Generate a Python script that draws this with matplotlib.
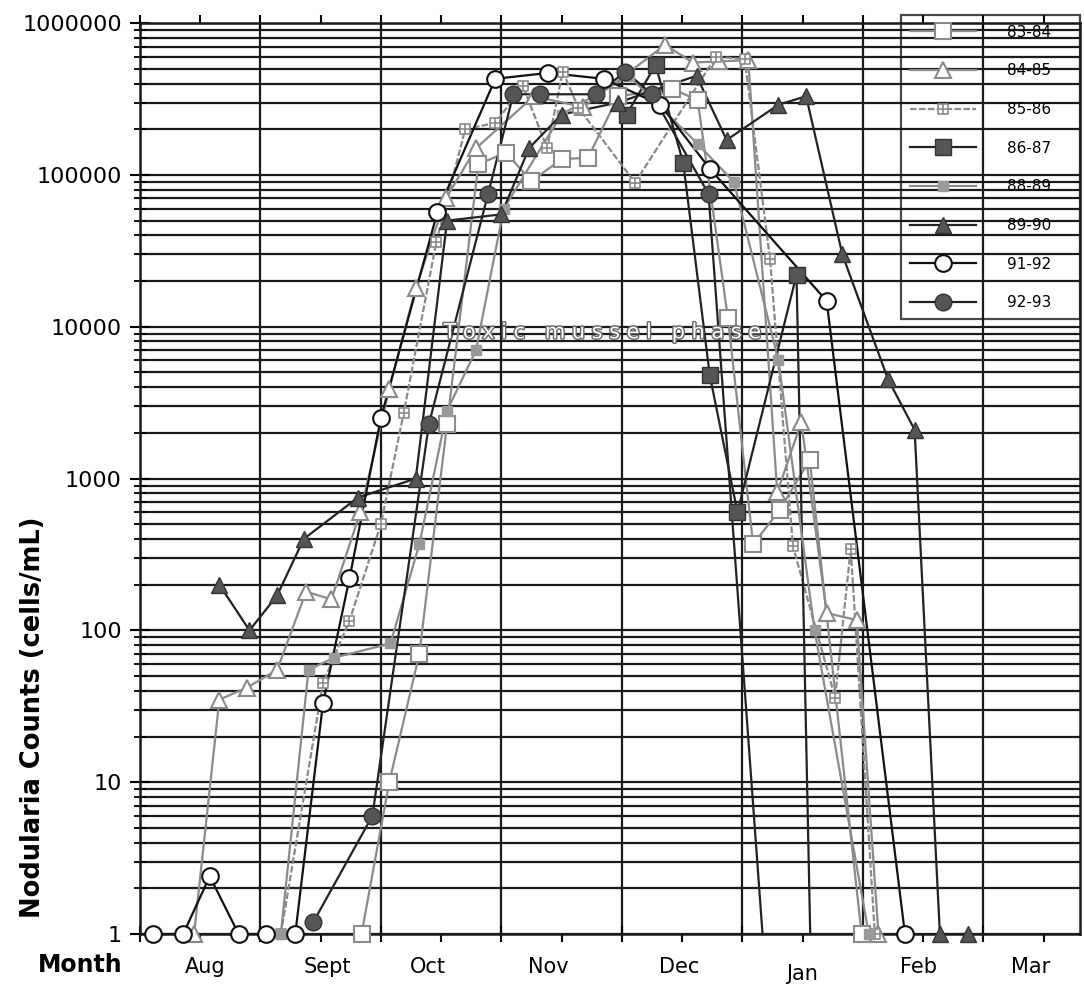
import matplotlib
matplotlib.use("Agg")
import matplotlib.pyplot as plt
import numpy as np
from matplotlib.path import Path
from matplotlib.lines import Line2D
from matplotlib.ticker import FixedLocator, FixedFormatter, LogLocator, NullFormatter
import matplotlib.patheffects as pe

# x = months after 1 August, y = Nodularia cells/mL (0.1 = below detection, line runs off the axis)
x_8384 = [1.84, 2.07, 2.32, 2.55, 2.81, 3.04, 3.25, 3.50, 3.72, 3.97, 4.42, 4.63, 4.88, 5.09, 5.31, 5.56, 5.99]
y_8384 = [1, 10, 70, 2300, 118000, 140000, 91000, 127000, 130000, 330000, 370000, 310000, 11500, 370, 620, 1330, 1]

x_8485 = [0.45, 0.66, 0.89, 1.14, 1.38, 1.59, 1.83, 2.07, 2.29, 2.54, 2.79, 3.27, 3.68, 4.36, 4.59, 4.81, 5.05, 5.29, 5.49, 5.70, 5.95, 6.13]
y_8485 = [1, 35, 42, 55, 180, 160, 600, 3900, 18000, 70000, 150000, 330000, 280000, 720000, 550000, 560000, 570000, 810, 2350, 130, 117, 1]

x_8586 = [1.17, 1.52, 1.74, 2.00, 2.19, 2.46, 2.70, 2.95, 3.18, 3.38, 3.51, 3.64, 4.11, 4.78, 5.02, 5.23, 5.42, 5.77, 5.90, 6.10]
y_8586 = [1, 45, 116, 500, 2700, 36000, 200000, 220000, 385000, 150000, 480000, 277000, 89000, 600000, 580000, 28000, 360, 36, 345, 1]

x_8687 = [4.04, 4.28, 4.51, 4.73, 4.96, 5.45, 5.59]
y_8687 = [250000, 530000, 120000, 4800, 600, 22000, 0.1]

x_8889 = [1.17, 1.40, 1.61, 2.08, 2.32, 2.55, 2.79, 3.02, 3.50, 4.06, 4.63, 4.93, 5.30, 5.60, 6.05]
y_8889 = [1, 55, 66, 82, 370, 2800, 7000, 60000, 250000, 450000, 160000, 90000, 6000, 100, 1]

x_8990 = [0.66, 0.91, 1.14, 1.36, 1.81, 2.29, 2.55, 3.00, 3.23, 3.50, 3.97, 4.62, 4.87, 5.30, 5.53, 5.83, 6.21, 6.43, 6.64, 6.87]
y_8990 = [200, 100, 170, 400, 750, 1000, 50000, 55000, 150000, 250000, 300000, 450000, 170000, 290000, 330000, 30000, 4500, 2100, 1, 1]

x_9192 = [0.11, 0.36, 0.58, 0.82, 1.05, 1.29, 1.52, 1.74, 2.00, 2.47, 2.95, 3.39, 3.85, 4.32, 4.73, 5.70, 6.35]
y_9192 = [1, 1, 2.4, 1, 1, 1, 33, 220, 2500, 57000, 430000, 470000, 430000, 290000, 110000, 14800, 1]

x_9293 = [1.44, 1.93, 2.40, 2.89, 3.10, 3.32, 3.79, 4.03, 4.25, 4.72, 5.26]
y_9293 = [1.2, 6, 2300, 75000, 340000, 340000, 340000, 480000, 340000, 75000, 0.1]

months = ["Aug", "Sept", "Oct", "Nov", "Dec", "Jan", "Feb", "Mar"]
month_pos = [0.54, 1.56, 2.39, 3.39, 4.48, 5.50, 6.46, 7.39]
y_ticks = [1, 10, 100, 1000, 10000, 100000, 1000000]

# square with a cross for 85-86
cross_sq = Path([(-1, -1), (1, -1), (1, 1), (-1, 1), (-1, -1), (0, -1), (0, 1), (-1, 0), (1, 0)],
                [Path.MOVETO, Path.LINETO, Path.LINETO, Path.LINETO, Path.CLOSEPOLY,
                 Path.MOVETO, Path.LINETO, Path.MOVETO, Path.LINETO])

grey = "#8a8a8a"
dark = "#555555"
series = [
    ("83-84", x_8384, y_8384, dict(color=grey, marker="s", ms=11, mfc="white", mec=grey, mew=1.5)),
    ("84-85", x_8485, y_8485, dict(color=grey, marker="^", ms=11, mfc="white", mec=grey, mew=1.5)),
    ("85-86", x_8586, y_8586, dict(color=grey, marker=cross_sq, ms=7, mfc="white", mec=grey, mew=1.2, ls=(0, (3, 1)))),
    ("86-87", x_8687, y_8687, dict(color="#222222", marker="s", ms=12, mfc=dark, mec="#333333", mew=1)),
    ("88-89", x_8889, y_8889, dict(color=grey, marker="s", ms=7, mfc="#999999", mec="#999999", mew=1)),
    ("89-90", x_8990, y_8990, dict(color="#222222", marker="^", ms=11, mfc=dark, mec="#333333", mew=1)),
    ("91-92", x_9192, y_9192, dict(color="#111111", marker="o", ms=12, mfc="white", mec="#111111", mew=1.5)),
    ("92-93", x_9293, y_9293, dict(color="#222222", marker="o", ms=12, mfc=dark, mec="#333333", mew=1)),
]

fig = plt.figure(figsize=(10.84, 9.89), dpi=100)
ax = fig.add_axes([0.129, 0.0556, 0.867, 0.921])
ax.set_yscale("log")
ax.set_ylim(1, 1e6)
ax.set_xlim(0, 7.8)

handles = []
for name, xs, ys, st in series:
    xs = np.array(xs)
    ys = np.array(ys, dtype=float)
    ls = st.pop("ls", "-")
    ax.plot(xs, ys, color=st["color"], lw=1.6, ls=ls, zorder=3)
    ok = ys >= 1
    ax.plot(xs[ok], ys[ok], ls="none", marker=st["marker"], ms=st["ms"], mfc=st["mfc"],
            mec=st["mec"], mew=st["mew"], zorder=4, clip_on=False)
    # trailing spaces give the wide right margin of the original legend table
    handles.append(Line2D([], [], color=st["color"], lw=1.6, ls=ls, marker=st["marker"], ms=st["ms"],
                          mfc=st["mfc"], mec=st["mec"], mew=st["mew"], label=name + "    "))

# grid like graph paper
ax.xaxis.set_major_locator(FixedLocator(range(0, 8)))
ax.xaxis.set_minor_locator(FixedLocator([m + 0.5 for m in range(8)]))
ax.xaxis.set_major_formatter(NullFormatter())
ax.xaxis.set_minor_formatter(NullFormatter())
ax.yaxis.set_major_locator(FixedLocator(y_ticks))
ax.yaxis.set_major_formatter(FixedFormatter([str(v) for v in y_ticks]))
ax.yaxis.set_minor_locator(LogLocator(base=10, subs=range(2, 10)))
ax.yaxis.set_minor_formatter(NullFormatter())
ax.grid(True, which="major", axis="x", color="#1a1a1a", lw=1.6)
ax.grid(True, which="both", axis="y", color="#1a1a1a", lw=1.6)
ax.set_axisbelow(True)

ax.tick_params(axis="x", which="major", direction="inout", length=12, width=1.5, top=True)
ax.tick_params(axis="x", which="minor", direction="out", length=6, width=1.5, top=True)
ax.tick_params(axis="y", which="major", direction="inout", length=14, width=1.5, labelsize=16, pad=6)
ax.tick_params(axis="y", which="minor", direction="inout", length=9, width=1.3)
for s in ax.spines.values():
    s.set_linewidth(1.8)
    s.set_color("#1a1a1a")

for m, p in zip(months, month_pos):
    dy = -0.044 if m == "Jan" else -0.036
    ax.text(p, dy, m, transform=ax.get_xaxis_transform(), ha="center", va="center", fontsize=15)

fig.text(0.03, 0.275, "Nodularia Counts (cells/mL)", rotation=90, ha="center", va="center",
         fontsize=18.5, fontweight="bold")
fig.text(0.074, 0.024, "Month", ha="center", va="center", fontsize=17, fontweight="bold")

ax.text(3.84, 9200, "T o x i c   m u s s e l   p h a s e", ha="center", va="center", fontsize=15,
        color="white", zorder=5,
        path_effects=[pe.Stroke(linewidth=2, foreground="#666666"), pe.Normal()])

leg = ax.legend(handles=handles, loc="upper right", bbox_to_anchor=(1.0, 1.0085), frameon=True,
                fontsize=11, handlelength=4.3, labelspacing=1.55, borderpad=0.6,
                handletextpad=2.0, borderaxespad=0.0, fancybox=False)
leg.get_frame().set_facecolor("none")
leg.get_frame().set_edgecolor("#1a1a1a")
leg.get_frame().set_linewidth(1.6)
leg.set_zorder(6)

fig.savefig("out.png", dpi=100)
